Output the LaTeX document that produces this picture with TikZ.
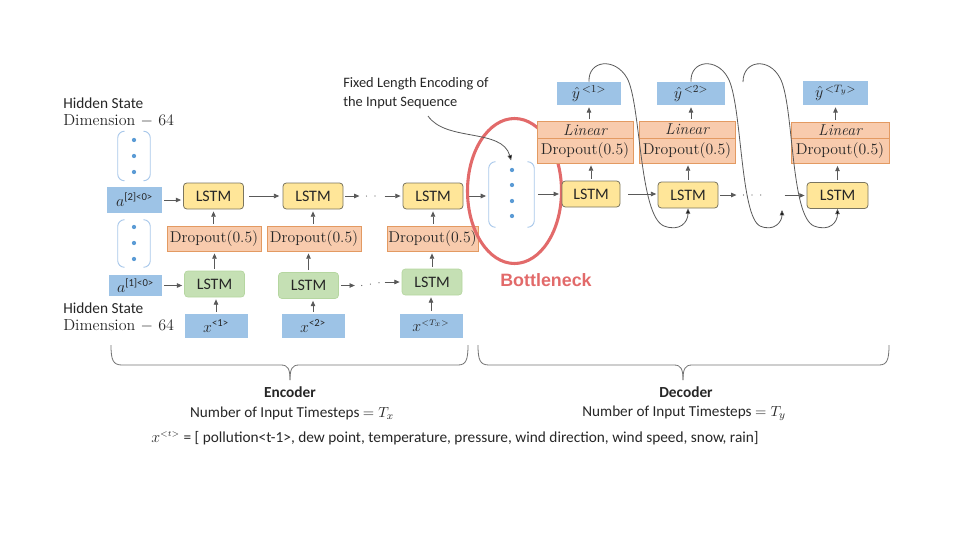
\documentclass[tikz,border=0pt]{standalone}
\usepackage{amsmath}
\usepackage{fontspec}
\setsansfont{Carlito}
\newfontfamily\arialfont{Liberation Sans}
\usetikzlibrary{arrows.meta,calc}
\definecolor{blueF}{HTML}{9DC3E6}
\definecolor{yelF}{HTML}{FFE699}
\definecolor{yelD}{HTML}{7A7560}
\definecolor{greF}{HTML}{C5E0B4}
\definecolor{greD}{HTML}{B5D6A0}
\definecolor{oraF}{HTML}{F8CBAD}
\definecolor{oraD}{HTML}{E39A62}
\definecolor{brkC}{HTML}{A9C8EA}
\definecolor{dotC}{HTML}{5B9BD5}
\definecolor{redC}{HTML}{E26A6A}
\definecolor{lineC}{HTML}{595959}
\definecolor{txtC}{HTML}{262626}
\begin{document}
\begin{tikzpicture}[x=0.75pt,y=-0.75pt,
  font=\sffamily\fontsize{11.5}{13.5}\selectfont, text=txtC,
  bbox/.style={fill=blueF, draw=none, inner sep=0pt, minimum width=47.25pt, minimum height=18pt, font=\fontsize{12}{13}\selectfont},
  ybox/.style={fill=yelF, draw=yelD, line width=0.6pt, rounded corners=2.5pt, inner sep=0pt, minimum width=45pt, minimum height=19.5pt, font=\sffamily\fontsize{12}{13}\selectfont},
  gbox/.style={fill=greF, draw=greD, line width=0.5pt, rounded corners=2.5pt, inner sep=0pt, minimum width=45pt, minimum height=19.5pt, font=\sffamily\fontsize{12}{13}\selectfont},
  obox/.style={fill=oraF, draw=oraD, line width=0.6pt, inner sep=0pt, minimum width=70.5pt, minimum height=18.75pt, font=\rmfamily\fontsize{11.8}{13}\selectfont},
  vec/.style={draw=none, inner sep=0pt, minimum width=24pt},
  arr/.style={draw=black!65, line width=0.6pt, -{Triangle[length=4pt,width=3.4pt]}, shorten <=1.5pt, shorten >=1.5pt},
  dotline/.style={draw=black!65, line width=0.9pt, line cap=round, dash pattern=on 0pt off 6.5pt},
  loopline/.style={draw=lineC, line width=0.6pt, -{Triangle[length=4pt,width=3.4pt,fill=black]}},
  bracel/.style={draw=black!55, line width=0.6pt},
  lbl/.style={anchor=west, inner sep=0pt},
  serifl/.style={anchor=west, inner sep=0pt, font=\rmfamily\fontsize{12}{14}\selectfont}
]
\useasboundingbox (0,0) rectangle (960,540);

% ---------- left labels ----------
\node[lbl] (hs1) at (63,103) {Hidden State};
\node[serifl] (dm1) at (63,121) {Dimension $-$ 64};
\node[lbl] (hs2) at (63,308) {Hidden State};
\node[serifl] (dm2) at (63,326) {Dimension $-$ 64};

% ---------- vector brackets ----------
\node[vec, minimum height=36.75pt] (s2) at (134,156) {};
\node[vec, minimum height=35.25pt] (s1) at (134,243.5) {};
\node[vec, minimum width=33.75pt, minimum height=48.75pt] (enc) at (511.5,194.5) {};
\foreach \n in {s2,s1,enc}{
  \draw[brkC, line width=0.7pt, rounded corners=5pt]
    ($(\n.north west)+(7,0)$) -- (\n.north west) -- (\n.south west) -- ($(\n.south west)+(7,0)$);
  \draw[brkC, line width=0.7pt, rounded corners=5pt]
    ($(\n.north east)+(-7,0)$) -- (\n.north east) -- (\n.south east) -- ($(\n.south east)+(-7,0)$);
}
\foreach \y in {140,156,172}{\fill[dotC] (134,\y) circle (1.6pt);}
\foreach \y in {227,243,259}{\fill[dotC] (134,\y) circle (1.6pt);}
\foreach \y in {170,185,201,216}{\fill[dotC] (512,\y) circle (1.6pt);}

% ---------- encoder ----------
\node[bbox, minimum width=41.25pt, minimum height=19.5pt] (a2) at (134.5,200) {$a^{\textsf{[2]<0>}}$};
\node[bbox, minimum width=39.75pt, minimum height=15.75pt] (a1) at (135.5,285.5) {$a^{\textsf{[1]<0>}}$};

\node[ybox] (Y1) at (213.5,196) {LSTM};
\node[ybox] (Y2) at (313,196) {LSTM};
\node[ybox] (Y3) at (433,196) {LSTM};
\node[obox] (D1) at (214,238.5) {Dropout(0.5)};
\node[obox] (D2) at (314,238.5) {Dropout(0.5)};
\node[obox, minimum width=68.25pt] (D3) at (432.5,238.5) {Dropout(0.5)};
\node[gbox] (G1) at (214.5,284) {LSTM};
\node[gbox] (G2) at (308.5,285.5) {LSTM};
\node[gbox] (G3) at (432,282) {LSTM};
\node[bbox] (X1) at (216,326) {$x^{\textsf{<1>}}$};
\node[bbox] (X2) at (313,326) {$x^{\textsf{<2>}}$};
\node[bbox] (X3) at (431,325.5) {$x^{\scriptscriptstyle <T_x>}$};

\draw[arr] (a2.east) -- (a2.east -| Y1.west);
\draw[arr] (a1.east) -- (a1.east -| G1.west);
\foreach \i in {1,2,3}{
  \draw[arr] (X\i.north) -- (X\i.north |- G\i.south);
  \draw[arr] (G\i.north) -- (G\i.north |- D\i.south);
  \draw[arr] (D\i.north -| Y\i.north) -- (Y\i.south);
}
\draw[arr, shorten <=4pt, shorten >=2.5pt] (Y1) -- (Y2);
\coordinate (yc1) at ($(Y2.east)+(18,0)$);
\coordinate (yc2) at ($(Y3.west)+(-18,0)$);
\draw[arr] (Y2.east) -- (yc1);
\draw[dotline] ($(yc1)+(5,0)$) -- ($(yc2)+(-1,0)$);
\draw[arr, shorten <=0pt] (yc2) -- (Y3.west);
\coordinate (gc1) at ($(G2.east)+(18,0)$);
\coordinate (gc2) at (yc2 |- G3.west);
\draw[arr] (G2.east) -- (gc1);
\draw[dotline] ($(gc1)+(5,0)$) -- ($(gc2)+(-1,0)$);
\draw[arr, shorten <=0pt] (gc2) -- (G3.west);
\draw[arr, shorten <=3pt, shorten >=2pt] (Y3.east) -- (Y3.east -| enc.west);

% ---------- bottleneck ----------
\draw[redC, line width=2.3pt] (514.5,191) ellipse [x radius=47, y radius=72.5];
\node[font=\arialfont\bfseries\fontsize{13.4}{15}\selectfont, text=redC] (bn) at (546,280) {Bottleneck};

\node[lbl, font=\sffamily\fontsize{10.8}{12}\selectfont] (fx1) at (343,84) {Fixed Length Encoding of};
\node[lbl, font=\sffamily\fontsize{10.8}{12}\selectfont] (fx2) at (343,103) {the Input Sequence};
\coordinate (fxs) at (428,116);
\draw[loopline, shorten >=1pt] (fxs) .. controls (446,142) and (502,128) .. (enc.north);

% ---------- decoder ----------
\node[ybox, minimum width=43.5pt] (DY1) at (591,194) {LSTM};
\node[ybox] (DY2) at (688,195) {LSTM};
\node[ybox, minimum width=45.75pt] (DY3) at (837.5,195.5) {LSTM};
\node[obox, minimum width=72pt, minimum height=12.75pt, font=\rmfamily\itshape\fontsize{11.8}{13}\selectfont] (L1) at (585,130) {Linear};
\node[obox, minimum width=72pt] (E1) at (585,150.5) {Dropout(0.5)};
\node[obox, minimum width=72pt, minimum height=12.75pt, font=\rmfamily\itshape\fontsize{11.8}{13}\selectfont] (L2) at (687,129.5) {Linear};
\node[obox, minimum width=72pt] (E2) at (687,150.5) {Dropout(0.5)};
\node[obox, minimum width=73.5pt, minimum height=12.75pt, font=\rmfamily\itshape\fontsize{11.8}{13}\selectfont] (L3) at (840,130.5) {Linear};
\node[obox, minimum width=73.5pt] (E3) at (840,151) {Dropout(0.5)};
\node[bbox, minimum width=48pt, minimum height=17.25pt] (H1) at (589,93.5) {$\hat{y}^{\,<1>}$};
\node[bbox, minimum width=51pt, minimum height=17.25pt] (H2) at (691,93.5) {$\hat{y}^{\,<2>}$};
\node[bbox, minimum width=48.75pt, minimum height=18pt] (H3) at (835.5,93) {$\hat{y}^{\,<T_y>}$};

\draw[arr, shorten <=3pt, shorten >=2pt] (enc.east |- DY1.west) -- (DY1.west);
\foreach \i in {1,2,3}{
  \draw[arr] (DY\i.north) -- (DY\i.north |- E\i.south);
  \draw[arr] (L\i.north -| H\i.south) -- (H\i.south);
}
\draw[arr, shorten <=6pt, shorten >=1pt] (DY1.east) -- (DY1.east -| DY2.west);
\coordinate (dc1) at ($(DY2.east)+(20,0)$);
\coordinate (dc2) at ($(DY3.west)+(-22,0)$);
\draw[arr] (DY2.east) -- (dc1);
\draw[dotline] ($(dc1)+(5,0)$) -- ($(dc1)+(26,0)$);
\draw[arr, shorten <=0pt] (dc2) -- (DY3.west);

% feedback loops
\coordinate (lp2) at (782,210);
\coordinate (lp3) at (743,82);
\draw[loopline] (H1.north) .. controls (588,60) and (615,57) .. (627,78)
  .. controls (641,103) and (639,216) .. (664,226)
  .. controls (680,232) and (688,222) .. (DY2.south);
\draw[loopline] (H2.north) .. controls (690,60) and (717,57) .. (728,78)
  .. controls (742,103) and (740,216) .. (760,226)
  .. controls (774,232) and (782,222) .. (lp2);
\draw[loopline] (lp3) .. controls (743,60) and (769,57) .. (780,78)
  .. controls (794,103) and (790,216) .. (814,226)
  .. controls (830,232) and (837.5,222) .. (DY3.south);

% ---------- braces ----------
\draw[bracel] (111,345) .. controls (111,360) and (113,365) .. (122,365) -- (281,365)
  .. controls (288,365) and (290,369) .. (290,380);
\draw[bracel] (290,380) .. controls (290,369) and (292,365) .. (299,365) -- (458,365)
  .. controls (466,365) and (468,360) .. (468,345);
\draw[bracel] (478,345) .. controls (478,360) and (480,365) .. (489,365) -- (674,365)
  .. controls (681,365) and (683,369) .. (683,380);
\draw[bracel] (683,380) .. controls (683,369) and (685,365) .. (692,365) -- (879,365)
  .. controls (887,365) and (889,360) .. (889,345);

\node[font=\sffamily\bfseries\fontsize{11.5}{13}\selectfont] (encl) at (290,392) {Encoder};
\node[font=\sffamily\fontsize{11.4}{14}\selectfont] (encn) at (292,413) {Number of Input Timesteps $= T_x$};
\node[font=\sffamily\bfseries\fontsize{11.5}{13}\selectfont] (decl) at (686,392) {Decoder};
\node[font=\sffamily\fontsize{11.4}{14}\selectfont] (decn) at (684,413) {Number of Input Timesteps $= T_y$};
\node[lbl, font=\sffamily\fontsize{11.5}{14}\selectfont] (feat) at (151,438) {$x^{\scriptscriptstyle <t>}$ = [ pollution<t-1>, dew point, temperature, pressure, wind direction, wind speed, snow, rain]};
\end{tikzpicture}
\end{document}
